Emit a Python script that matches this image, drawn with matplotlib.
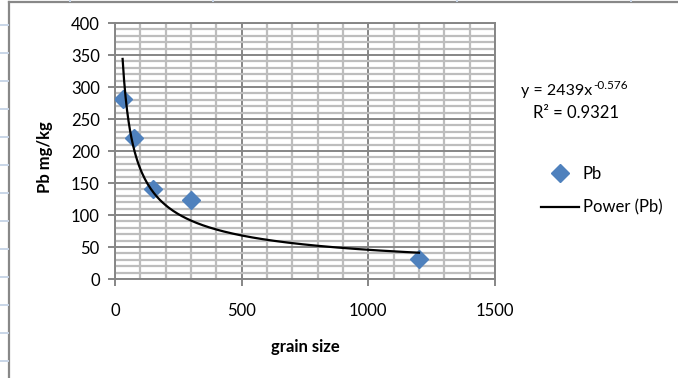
import numpy as np
import matplotlib
matplotlib.use("Agg")
import matplotlib.pyplot as plt
from matplotlib.lines import Line2D
from matplotlib.ticker import MultipleLocator

# measured points
grain_size = [30, 75, 150, 300, 1200]
pb = [282, 221, 141, 123, 31]

# power trendline as reported by the chart: y = a * x^b
fit_a = 2439
fit_b = -0.576
fit_r2 = 0.9321

W, H = 678, 378
DPI = 100

plt.rcParams["font.family"] = ["Lato", "DejaVu Sans"]
plt.rcParams["font.size"] = 12

fig = plt.figure(figsize=(W / DPI, H / DPI), dpi=DPI)


def fx(px):
    return px / W


def fy(py):
    return 1 - py / H


# plot area in pixels: x 115..495, y 23..279
ax = fig.add_axes([fx(115), fy(279), fx(495 - 115), (279 - 23) / H])

ax.plot(grain_size, pb, linestyle="none", marker="D", markersize=9,
        color="#4f81bd", label="Pb", zorder=3)

# excel draws the trendline over the markers
xs = np.linspace(min(grain_size), max(grain_size), 200)
ax.plot(xs, fit_a * xs ** fit_b, color="black", linewidth=1.6,
        label="Power (Pb)", zorder=4)

ax.set_xlim(0, 1500)
ax.set_ylim(0, 400)
ax.xaxis.set_major_locator(MultipleLocator(500))
ax.xaxis.set_minor_locator(MultipleLocator(100))
ax.yaxis.set_major_locator(MultipleLocator(50))
ax.yaxis.set_minor_locator(MultipleLocator(10))

ax.grid(which="minor", color="#bdbdbd", linewidth=1.6, zorder=0)
ax.grid(which="major", color="#868686", linewidth=1.4, zorder=1)
ax.set_axisbelow(True)

for s in ax.spines.values():
    s.set_color("#868686")
    s.set_linewidth(1.4)

ax.tick_params(which="minor", length=0)
ax.tick_params(axis="x", which="major", length=5, width=1.4, color="#868686",
               pad=12, labelsize=12)
ax.tick_params(axis="y", which="major", length=5, width=1.4, color="#868686",
               pad=6, labelsize=12)

fig.text(fx(45), fy(157), "Pb mg/kg", rotation=90, fontweight="bold",
         ha="center", va="center", fontsize=12)
fig.text(fx(305), fy(347), "grain size", fontweight="bold",
         ha="center", va="center", fontsize=12)

# trendline equation
eq = fig.text(fx(521), fy(95), "y = %dx" % fit_a, ha="left", va="baseline",
              fontsize=11.5)
ax.annotate("%g" % fit_b, xy=(1, 0.5), xycoords=eq, xytext=(0.5, 0),
            textcoords="offset points", ha="left", va="bottom", fontsize=8.5)
fig.text(fx(533), fy(118), "R\u00b2 = %.4f" % fit_r2, ha="left", va="baseline",
         fontsize=12)

ax.legend(loc="upper left", bbox_to_anchor=(fx(541), fy(166)),
          bbox_transform=fig.transFigure, frameon=False, handlelength=2.3,
          handletextpad=0.2, labelspacing=1.05, borderpad=0, borderaxespad=0,
          numpoints=1, fontsize=12)

# chart frame and spreadsheet cell lines behind it
fig.add_artist(Line2D([fx(9), fx(9)], [fy(2), 0], color="#888888", linewidth=1.6))
fig.add_artist(Line2D([fx(9), 1], [fy(2), fy(2)], color="#888888", linewidth=1.6))
for k in range(13):
    yy = fy(24.7 + 28 * k)
    fig.add_artist(Line2D([0, fx(8)], [yy, yy], color="#c9d6e8", linewidth=1.4))
for xx in [70, 213, 457, 631]:
    fig.add_artist(Line2D([fx(xx), fx(xx)], [1, fy(1)], color="#c9d6e8", linewidth=1.4))

fig.savefig("out.png", dpi=DPI)
